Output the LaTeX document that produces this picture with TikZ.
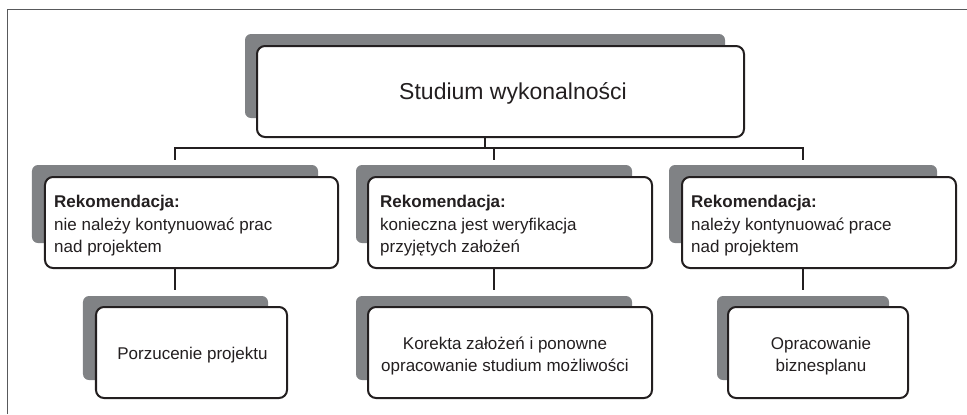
\documentclass[tikz,border=0pt]{standalone}
\usepackage{fontspec}
\setmainfont{Liberation Sans}
\definecolor{shade}{HTML}{808285}
\definecolor{ink}{HTML}{231F20}
\definecolor{framec}{HTML}{58595B}
\begin{document}
\begin{tikzpicture}[x=1bp,y=-1bp,
  shadowbox/.style={fill=shade, draw=none, rounded corners=6bp, inner sep=0pt},
  mainbox/.style={fill=white, draw=ink, line width=2bp, rounded corners=8bp, inner sep=0pt},
  conn/.style={draw=ink, line width=2bp},
  body/.style={font=\fontsize{17bp}{20bp}\selectfont, text=ink, inner sep=0pt},
  bodyb/.style={font=\fontsize{17bp}{20bp}\selectfont\bfseries, text=ink, inner sep=0pt},
  ttl/.style={font=\fontsize{23bp}{27bp}\selectfont, text=ink, inner sep=0pt},
  framel/.style={draw=framec, line width=1bp}]
\useasboundingbox (0,0) rectangle (967,414);
% outer frame
\draw[framel] (7,414) -- (7,9) -- (967,9);

% top box
\node[shadowbox, minimum width=480bp, minimum height=84bp] (sTop) at (485,76) {};
\node[mainbox, minimum width=487bp, minimum height=91bp] (top) at (500.5,91.5) {};
\node[ttl, anchor=base] (ttext) at (513,99) {Studium wykonalności};

% level 2
\node[shadowbox, minimum width=286bp, minimum height=78bp] (sL) at (175,204) {};
\node[mainbox, minimum width=293bp, minimum height=91bp] (l2a) at (191.5,222.5) {};
\node[shadowbox, minimum width=276bp, minimum height=78bp] (sM) at (494,204) {};
\node[mainbox, minimum width=284bp, minimum height=91bp] (l2b) at (510,222.5) {};
\node[shadowbox, minimum width=268bp, minimum height=78bp] (sR) at (803,204) {};
\node[mainbox, minimum width=274bp, minimum height=91bp] (l2c) at (819,222.5) {};

\node[bodyb, anchor=base west] (a1) at (54,207) {Rekomendacja:};
\node[body, anchor=base west] (a2) at (54,230) {nie należy kontynuować prac};
\node[body, anchor=base west] (a3) at (54,252.5) {nad projektem};
\node[bodyb, anchor=base west] (b1) at (380,207) {Rekomendacja:};
\node[body, anchor=base west] (b2) at (380,230) {konieczna jest weryfikacja};
\node[body, anchor=base west] (b3) at (380,252.5) {przyjętych założeń};
\node[bodyb, anchor=base west] (c1) at (691,207) {Rekomendacja:};
\node[body, anchor=base west] (c2) at (691,230) {należy kontynuować prace};
\node[body, anchor=base west] (c3) at (691,252.5) {nad projektem};

% level 3
\node[shadowbox, minimum width=185bp, minimum height=84bp] (sL3) at (175.5,338) {};
\node[mainbox, minimum width=191bp, minimum height=91bp] (l3a) at (191.5,352.5) {};
\node[shadowbox, minimum width=276bp, minimum height=84bp] (sM3) at (494,338) {};
\node[mainbox, minimum width=284bp, minimum height=91bp] (l3b) at (510,352.5) {};
\node[shadowbox, minimum width=172bp, minimum height=84bp] (sR3) at (803,338) {};
\node[mainbox, minimum width=180bp, minimum height=91bp] (l3c) at (818,352.5) {};

\node[body, anchor=base] (d1) at (192.5,359) {Porzucenie projektu};
\node[body, anchor=base] (e1) at (505,349) {Korekta założeń i ponowne};
\node[body, anchor=base] (e2) at (505,371) {opracowanie studium możliwości};
\node[body, anchor=base] (f1) at (821,349) {Opracowanie};
\node[body, anchor=base] (f2) at (821,371) {biznesplanu};

% connectors
\coordinate (bus) at (0,148);
\draw[conn] (sTop.south |- top.south) -- (sTop.south |- bus);
\draw[conn] ([yshift=5bp]sL.north) |- (sTop.south |- bus) -| ([yshift=5bp]sR.north);
\draw[conn] ([yshift=5bp]sM.north) -- (sM.north |- bus);
\draw[conn, shorten >=6bp] (sL.south |- l2a.south) -- (sL.south |- sL3.north);
\draw[conn, shorten >=6bp] (sM.south |- l2b.south) -- (sM.south |- sM3.north);
\draw[conn, shorten >=6bp] (sR.south |- l2c.south) -- (sR.south |- sR3.north);
\end{tikzpicture}
\end{document}
